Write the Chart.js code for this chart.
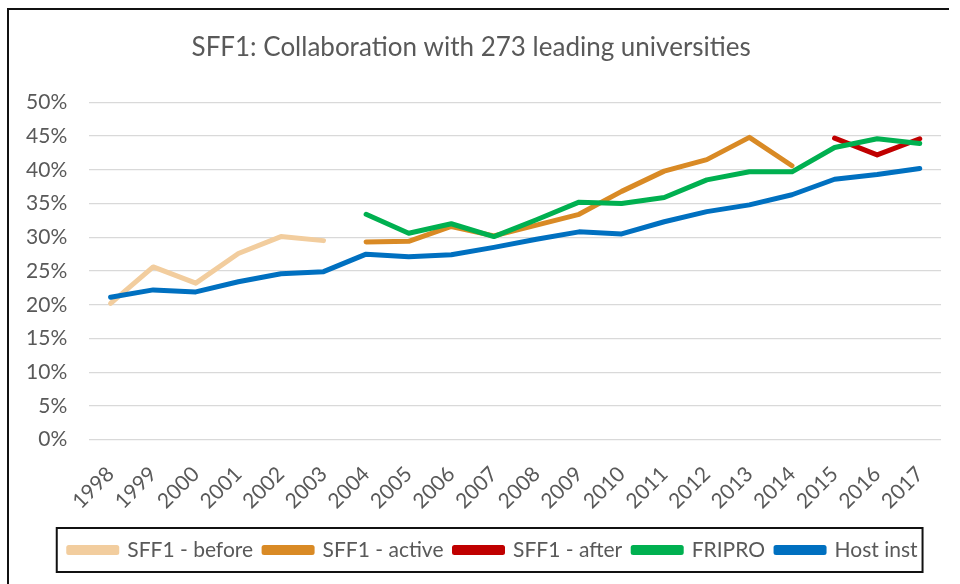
<!DOCTYPE html>
<html>
<head>
<meta charset="utf-8">
<script src="https://cdn.jsdelivr.net/npm/chart.js@4.4.1/dist/chart.umd.min.js"></script>
<style>
  html, body { margin: 0; padding: 0; background: #fff; }
  #wrap { width: 960px; height: 584px; position: relative; }
</style>
</head>
<body>
<div id="wrap"><canvas id="c" width="960" height="584"></canvas></div>
<script>
const titleText = 'SFF1: Collaboration with 273 leading universities';
const years = ['1998','1999','2000','2001','2002','2003','2004','2005','2006','2007',
               '2008','2009','2010','2011','2012','2013','2014','2015','2016','2017'];
const sffBefore = [20.2, 25.6, 23.2, 27.6, 30.1, 29.5, null, null, null, null,
                   null, null, null, null, null, null, null, null, null, null];
const sffActive = [null, null, null, null, null, null, 29.3, 29.4, 31.6, 30.2,
                   31.8, 33.4, 36.8, 39.8, 41.5, 44.8, 40.6, null, null, null];
const sffAfter  = [null, null, null, null, null, null, null, null, null, null,
                   null, null, null, null, null, null, null, 44.7, 42.2, 44.6];
const fripro    = [null, null, null, null, null, null, 33.4, 30.6, 32.0, 30.1,
                   32.6, 35.2, 35.0, 35.9, 38.5, 39.7, 39.7, 43.3, 44.6, 43.9];
const hostInst  = [21.1, 22.2, 21.9, 23.4, 24.6, 24.9, 27.5, 27.1, 27.4, 28.5,
                   29.7, 30.8, 30.5, 32.3, 33.8, 34.8, 36.3, 38.6, 39.3, 40.2];
const yTicks = [0, 5, 10, 15, 20, 25, 30, 35, 40, 45, 50];

const FONT = 'Lato, "Open Sans", sans-serif';
const GREY = '#595959';

function ds(label, data, color, order) {
  return {
    label, data, order,
    borderColor: color, backgroundColor: color,
    borderWidth: 5, pointRadius: 0, pointHoverRadius: 0,
    tension: 0, spanGaps: false,
    borderCapStyle: 'round', borderJoinStyle: 'round'
  };
}

const framePlugin = {
  id: 'frame',
  afterLayout(chart) {
    const lg = chart.legend;
    if (lg) { lg.left += 22; lg.right += 22; }
  },
  afterDraw(chart) {
    const ctx = chart.ctx;
    ctx.save();
    ctx.strokeStyle = '#111';
    ctx.lineWidth = 2;
    ctx.beginPath();
    ctx.moveTo(8, 584);
    ctx.lineTo(8, 9);
    ctx.lineTo(949, 9);
    ctx.stroke();
    const lg = chart.legend;
    if (lg && lg.legendHitBoxes && lg.legendHitBoxes.length) {
      const hb = lg.legendHitBoxes;
      const first = hb[0], last = hb[hb.length - 1];
      const cy = first.top + first.height / 2;
      const left = first.left - 12;
      const right = last.left + last.width + 5;
      ctx.strokeRect(left, cy - 22, right - left, 44);
    }
    ctx.restore();
  }
};

new Chart(document.getElementById('c'), {
  type: 'line',
  data: {
    labels: years,
    datasets: [
      ds('SFF1 - before', sffBefore, '#F2CD9E', 5),
      ds('SFF1 - active', sffActive, '#D98A25', 4),
      ds('SFF1 - after', sffAfter, '#C00000', 3),
      ds('FRIPRO', fripro, '#00B050', 2),
      ds('Host inst', hostInst, '#0070C0', 1)
    ]
  },
  options: {
    responsive: false,
    animation: false,
    events: [],
    layout: { padding: { left: 0, right: 17.7, top: 0, bottom: 13.5 } },
    plugins: {
      title: {
        display: true, text: titleText, color: GREY,
        font: { family: FONT, size: 26, weight: 'normal', lineHeight: 1.2 },
        padding: { top: 32.4, bottom: 38.7 }
      },
      legend: {
        display: true, position: 'bottom',
        labels: {
          color: GREY, boxWidth: 48, boxHeight: 5, padding: 11,
          font: { family: FONT, size: 21 },
          sort: (a, b) => a.datasetIndex - b.datasetIndex
        }
      },
      tooltip: { enabled: false }
    },
    scales: {
      x: {
        type: 'category', offset: true,
        grid: { display: false, drawTicks: false },
        border: { display: false },
        ticks: {
          color: GREY, font: { family: FONT, size: 21 },
          minRotation: 45, maxRotation: 45, padding: 22, autoSkip: false
        },
        afterFit(s) { s.height = 88.8; }
      },
      y: {
        min: 0, max: 50,
        afterBuildTicks(s) { s.ticks = yTicks.map(v => ({ value: v })); },
        grid: { color: '#D9D9D9', lineWidth: 1.3, drawTicks: false },
        border: { display: false },
        ticks: {
          color: GREY, font: { family: FONT, size: 21 }, padding: 22,
          callback: v => v + '%'
        },
        afterFit(s) { s.width = 89.3; }
      }
    }
  },
  plugins: [framePlugin]
});
</script>
</body>
</html>
